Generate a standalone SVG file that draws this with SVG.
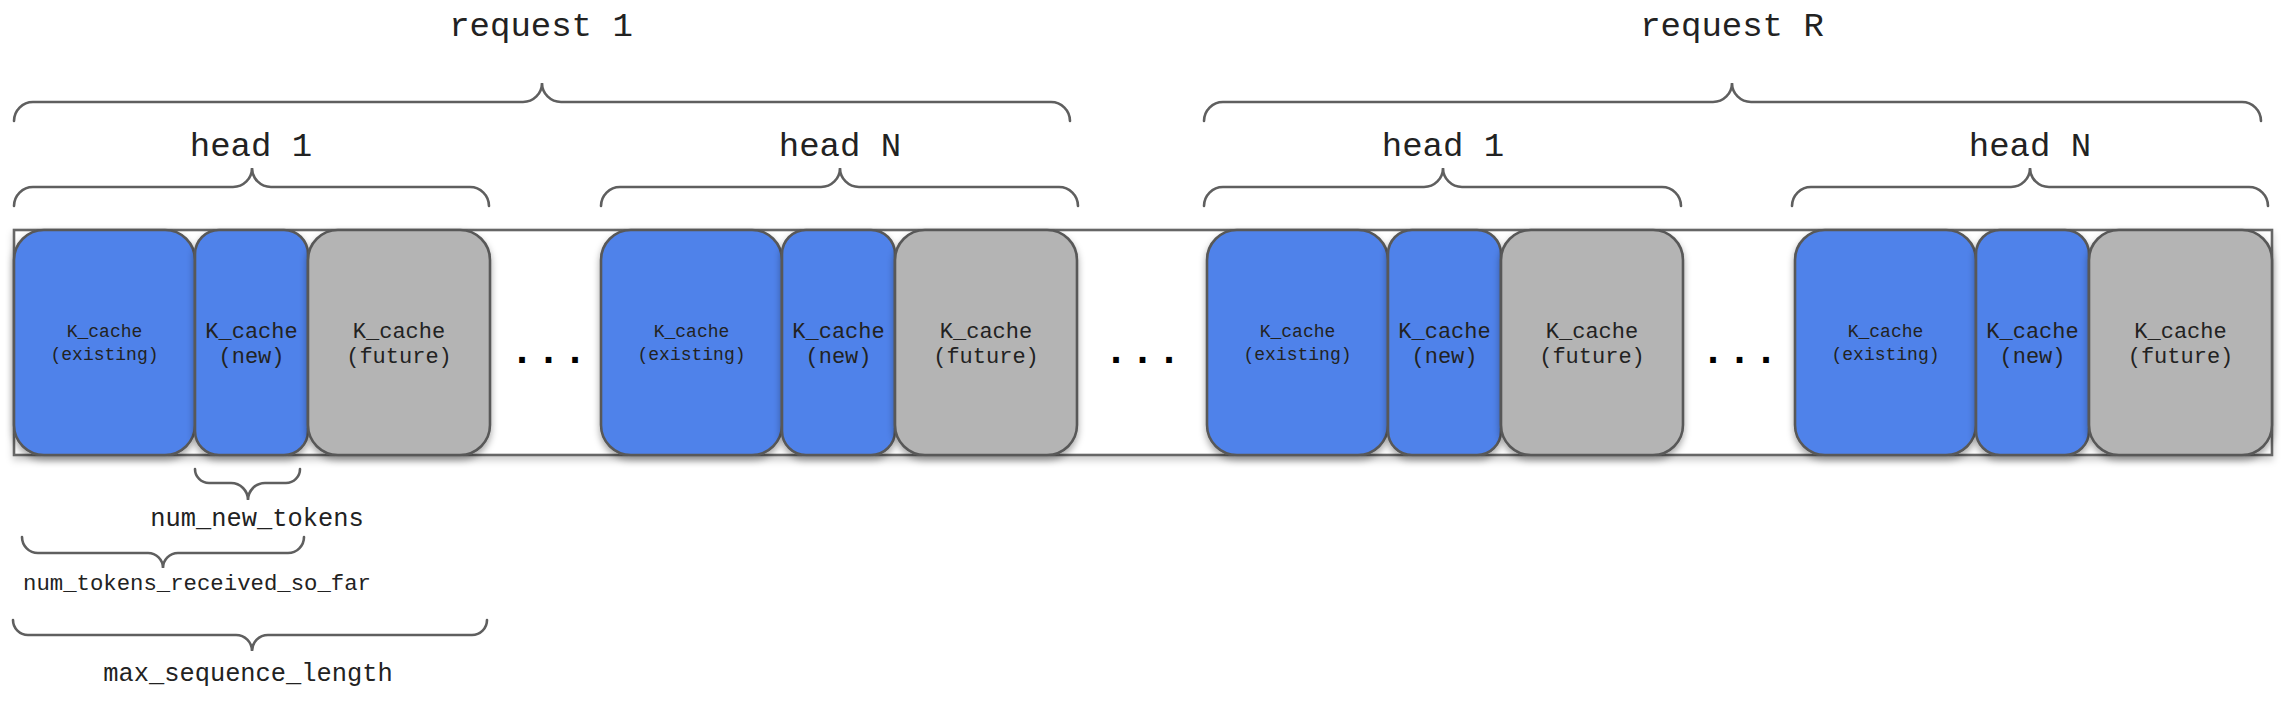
<svg xmlns="http://www.w3.org/2000/svg" width="2282" height="706" viewBox="0 0 2282 706">
<defs>
<filter id="sh" x="-10%" y="-10%" width="120%" height="130%">
<feDropShadow dx="0" dy="4" stdDeviation="3.5" flood-color="#000" flood-opacity="0.35"/>
</filter>
<filter id="sh2" x="-2%" y="-10%" width="104%" height="130%">
<feDropShadow dx="0" dy="4" stdDeviation="3.5" flood-color="#000" flood-opacity="0.2"/>
</filter>
</defs>
<style>
.brace{fill:none;stroke:#5f5f5f;stroke-width:2.6;stroke-linecap:round}
.lbl{font-family:"Liberation Mono","Courier New",monospace;fill:#222;text-anchor:middle}
.big{font-size:34px}
.sm{font-size:25.4px}
.ex{fill:#4f82ea;stroke:#585858;stroke-width:2.6;filter:url(#sh)}
.nw{fill:#4f82ea;stroke:#585858;stroke-width:2.6;filter:url(#sh)}
.fu{fill:#b4b4b4;stroke:#585858;stroke-width:2.6;filter:url(#sh)}
.t18{font-family:"Liberation Mono","Courier New",monospace;font-size:18px;fill:#222;text-anchor:middle}
.t22{font-family:"Liberation Mono","Courier New",monospace;font-size:22px;fill:#222;text-anchor:middle}
.dots{font-family:"Liberation Mono","Courier New",monospace;font-size:40px;font-weight:bold;fill:#000;letter-spacing:2.5px}
</style>
<rect id="strip" x="14" y="230" width="2258" height="225" fill="#fff" stroke="#666" stroke-width="2.6" filter="url(#sh2)"/>
<g id="connectors">
<path class="brace" d="M14,121 A19,19 0 0 1 33,102 H523 A19,19 0 0 0 542,83 A19,19 0 0 0 561,102 H1051 A19,19 0 0 1 1070,121"/>
<path class="brace" d="M1204,121 A19,19 0 0 1 1223,102 H1713 A19,19 0 0 0 1732,83 A19,19 0 0 0 1751,102 H2242 A19,19 0 0 1 2261,121"/>
<path class="brace" d="M14,206 A19,19 0 0 1 33,187 H233 A19,19 0 0 0 252,168 A19,19 0 0 0 271,187 H470 A19,19 0 0 1 489,206"/>
<path class="brace" d="M601,206 A19,19 0 0 1 620,187 H821 A19,19 0 0 0 840,168 A19,19 0 0 0 859,187 H1059 A19,19 0 0 1 1078,206"/>
<path class="brace" d="M1204,206 A19,19 0 0 1 1223,187 H1424 A19,19 0 0 0 1443,168 A19,19 0 0 0 1462,187 H1662 A19,19 0 0 1 1681,206"/>
<path class="brace" d="M1792,206 A19,19 0 0 1 1811,187 H2011 A19,19 0 0 0 2030,168 A19,19 0 0 0 2049,187 H2249 A19,19 0 0 1 2268,206"/>
<path class="brace" d="M195,469 A14,14 0 0 0 209,483 H231 A17,17 0 0 1 248,500 A17,17 0 0 1 265,483 H286 A14,14 0 0 0 300,469"/>
<path class="brace" d="M22,537 A16,16 0 0 0 38,553 H148 A15,15 0 0 1 163,568 A15,15 0 0 1 178,553 H288 A16,16 0 0 0 304,537"/>
<path class="brace" d="M13,620 A15,15 0 0 0 28,635 H236 A16,16 0 0 1 252,651 A16,16 0 0 1 268,635 H472 A15,15 0 0 0 487,620"/>
</g>
<g id="labels">
<text class="lbl big" x="541" y="36">request 1</text>
<text class="lbl big" x="1732" y="36">request R</text>
<text class="lbl big" x="251" y="156">head 1</text>
<text class="lbl big" x="840" y="156">head N</text>
<text class="lbl big" x="1443" y="156">head 1</text>
<text class="lbl big" x="2030" y="156">head N</text>
<text class="lbl sm" x="257" y="526">num_new_tokens</text>
<text class="lbl" style="font-size:22.3px" x="197" y="590">num_tokens_received_so_far</text>
<text class="lbl sm" x="248" y="681">max_sequence_length</text>
</g>
<g id="r1h1">
<g id="r1h1-existing"><rect class="ex" x="14" y="230" width="181" height="225" rx="30"/><text class="t18" x="104.5" y="337">K_cache</text><text class="t18" x="104.5" y="360">(existing)</text></g>
<g id="r1h1-new"><rect class="nw" x="195" y="230" width="113" height="225" rx="24"/><text class="t22" x="251.5" y="338">K_cache</text><text class="t22" x="251.5" y="363">(new)</text></g>
<g id="r1h1-future"><rect class="fu" x="308" y="230" width="182" height="225" rx="30"/><text class="t22" x="399" y="338">K_cache</text><text class="t22" x="399" y="363">(future)</text></g>
</g>
<g id="r1hN">
<g id="r1hN-existing"><rect class="ex" x="601" y="230" width="181" height="225" rx="30"/><text class="t18" x="691.5" y="337">K_cache</text><text class="t18" x="691.5" y="360">(existing)</text></g>
<g id="r1hN-new"><rect class="nw" x="782" y="230" width="113" height="225" rx="24"/><text class="t22" x="838.5" y="338">K_cache</text><text class="t22" x="838.5" y="363">(new)</text></g>
<g id="r1hN-future"><rect class="fu" x="895" y="230" width="182" height="225" rx="30"/><text class="t22" x="986" y="338">K_cache</text><text class="t22" x="986" y="363">(future)</text></g>
</g>
<g id="rRh1">
<g id="rRh1-existing"><rect class="ex" x="1207" y="230" width="181" height="225" rx="30"/><text class="t18" x="1297.5" y="337">K_cache</text><text class="t18" x="1297.5" y="360">(existing)</text></g>
<g id="rRh1-new"><rect class="nw" x="1388" y="230" width="113" height="225" rx="24"/><text class="t22" x="1444.5" y="338">K_cache</text><text class="t22" x="1444.5" y="363">(new)</text></g>
<g id="rRh1-future"><rect class="fu" x="1501" y="230" width="182" height="225" rx="30"/><text class="t22" x="1592" y="338">K_cache</text><text class="t22" x="1592" y="363">(future)</text></g>
</g>
<g id="rRhN">
<g id="rRhN-existing"><rect class="ex" x="1795" y="230" width="181" height="225" rx="30"/><text class="t18" x="1885.5" y="337">K_cache</text><text class="t18" x="1885.5" y="360">(existing)</text></g>
<g id="rRhN-new"><rect class="nw" x="1976" y="230" width="113" height="225" rx="24"/><text class="t22" x="2032.5" y="338">K_cache</text><text class="t22" x="2032.5" y="363">(new)</text></g>
<g id="rRhN-future"><rect class="fu" x="2089" y="230" width="183" height="225" rx="30"/><text class="t22" x="2180.5" y="338">K_cache</text><text class="t22" x="2180.5" y="363">(future)</text></g>
</g>
<g id="ellipses">
<text class="dots" x="510" y="363">...</text>
<text class="dots" x="1104" y="363">...</text>
<text class="dots" x="1701" y="363">...</text>
</g>
</svg>
